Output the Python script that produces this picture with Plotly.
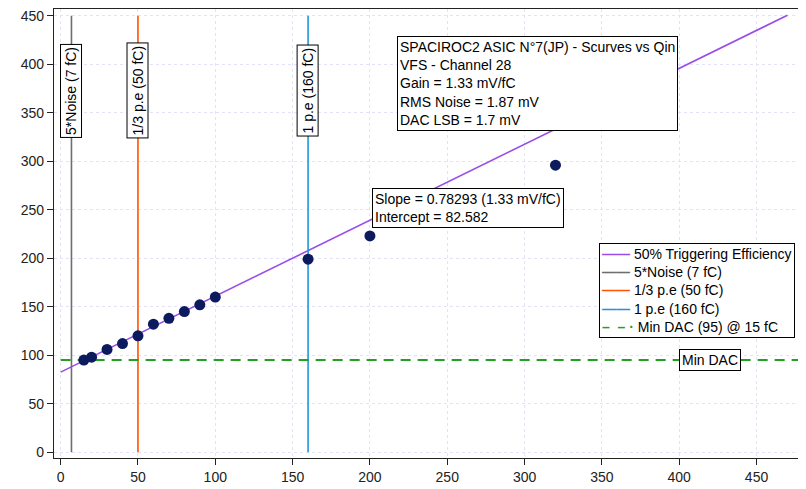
import plotly.graph_objects as go

# Data
qin_fc = [15, 20, 30, 40, 50, 60, 70, 80, 90, 100, 160, 200, 320]
dac_50pct = [95, 98, 106, 112, 120, 132, 138, 145, 152, 160, 199, 223, 296]
fit_slope = 0.78293
fit_intercept = 82.582
fit_x = [0, 470]
vline_x = [7, 50, 160]
vline_names = ["5*Noise (7 fC)", "1/3 p.e (50 fC)", "1 p.e (160 fC)"]
vline_colors = ["#6e6e6e", "#ff5500", "#1e96dc"]
fit_name = "50% Triggering Efficiency"
fit_color = "#9a4de8"
min_dac = 95
min_dac_name = "Min DAC (95) @ 15 fC"
min_dac_color = "#22a022"
min_dac_x = [0, 485]
x_ticks = [0, 50, 100, 150, 200, 250, 300, 350, 400, 450]
y_ticks = [0, 50, 100, 150, 200, 250, 300, 350, 400, 450]

FONT = "Liberation Sans, Arial, sans-serif"

fig = go.Figure()

fit_y = [fit_slope * x + fit_intercept for x in fit_x]
fig.add_trace(go.Scatter(x=fit_x, y=fit_y, mode="lines",
                         line=dict(color=fit_color, width=1.6), name=fit_name))
for xv, nm, col in zip(vline_x, vline_names, vline_colors):
    fig.add_trace(go.Scatter(x=[xv, xv], y=[0, 450], mode="lines",
                             line=dict(color=col, width=1.6), name=nm))
fig.add_trace(go.Scatter(x=min_dac_x, y=[min_dac, min_dac], mode="lines",
                         line=dict(color=min_dac_color, width=2, dash="10px,7px"),
                         name=min_dac_name))
fig.add_trace(go.Scatter(x=qin_fc, y=dac_50pct, mode="markers",
                         marker=dict(color="#0c1a5e", size=11), name="data"))

ann_common = dict(showarrow=False, bgcolor="white", bordercolor="black",
                  borderwidth=1, borderpad=2, font=dict(family=FONT, size=14, color="black"))
for xv, nm in zip(vline_x, vline_names):
    fig.add_annotation(x=xv, y=373, xref="x", yref="y", text=nm, textangle=-90, **ann_common)

fig.add_annotation(x=420, y=95, xref="x", yref="y", text="Min DAC", **ann_common)

fig.add_annotation(x=(397 - 54) / 752, y=(458 - 36) / 449, xref="paper", yref="paper",
                   xanchor="left", yanchor="top", align="left",
                   text="SPACIROC2 ASIC N°7(JP) - Scurves vs Qin<br>VFS - Channel 28<br>"
                        "Gain = 1.33 mV/fC<br>RMS Noise = 1.87 mV<br>DAC LSB = 1.7 mV",
                   **ann_common)
fig.add_annotation(x=(372 - 54) / 752, y=(458 - 188) / 449, xref="paper", yref="paper",
                   xanchor="left", yanchor="top", align="left",
                   text="Slope = 0.78293 (1.33 mV/fC)<br>Intercept = 82.582",
                   **ann_common)

# Legend box (compact, as in the reference)
leg_lines = [f"<span style='color:{fit_color}'><b>——</b></span> {fit_name}"]
for nm, col in zip(vline_names, vline_colors):
    leg_lines.append(f"<span style='color:{col}'><b>——</b></span> {nm}")
leg_lines.append(f"<span style='color:{min_dac_color}'><b>–  – ·</b></span> {min_dac_name}")
fig.add_annotation(x=(599 - 54) / 752, y=(458 - 243) / 449, xref="paper", yref="paper",
                   xanchor="left", yanchor="top", align="left",
                   text="<br>".join(leg_lines), **ann_common)

axis_common = dict(showline=True, linecolor="#222", linewidth=1.2, mirror=True,
                   ticks="outside", ticklen=6, tickcolor="#222", automargin=False,
                   ticklabeloverflow="allow",
                   showgrid=True, gridcolor="#e2e2f8", griddash="dot", gridwidth=1,
                   zeroline=False, tickfont=dict(family=FONT, size=14, color="#222"))

# page has an 8px body margin: figure spans page x 8..806, y 8..489
fig.update_layout(
    width=798, height=481,
    margin=dict(l=46, r=0, t=1, b=31),
    paper_bgcolor="white", plot_bgcolor="white",
    xaxis=dict(range=[-4.3, 482], tickvals=x_ticks, **axis_common),
    yaxis=dict(range=[-6, 457], tickvals=y_ticks, **axis_common),
    showlegend=False,
)

fig.write_html("out.html")
